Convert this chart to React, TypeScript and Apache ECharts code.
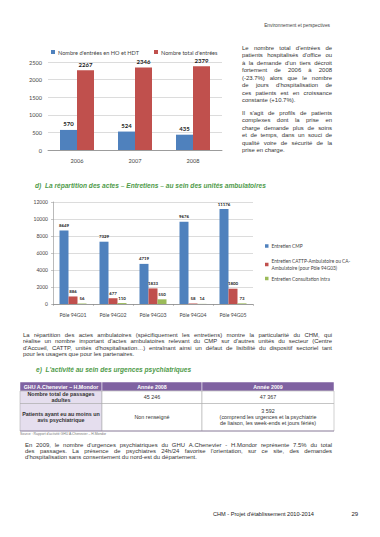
import React, { useEffect, useRef } from 'react';
import * as echarts from 'echarts';

const W = 380;
const H = 537;

// ---- Chart 1 data ----
const years = ['2006', '2007', '2008'];
const entreesHO = [570, 524, 435];
const entreesTotal = [2267, 2346, 2379];
const chart1Names = ["Nombre d'entrées en HO et HDT", "Nombre total d'entrées"];

// ---- Chart 2 data ----
const poles = ['Pôle 94G01', 'Pôle 94G02', 'Pôle 94G03', 'Pôle 94G04', 'Pôle 94G05'];
const entretienCMP = [8649, 7329, 4719, 9676, 11176];
const entretienCATTP = [886, 677, 1833, 58, 1800];
const entretienConsult = [56, 110, 550, 14, 73];
const chart2Names = [
  'Entretien CMP',
  'Entretien CATTP-Ambulatoire ou CA-\nAmbulatoire (pour Pôle 94G03)',
  'Entretien Consultation intra',
];

// ---- Text ----
const header = 'Environnement et perspectives';
const para1 = [
  "Le nombre total d'entrées de",
  "patients hospitalisés d'office ou",
  "à la demande d'un tiers décroit",
  'fortement de 2006 à 2008',
  '(-23.7%) alors que le nombre',
  "de jours d'hospitalisation de",
  'ces patients est en croissance',
  'constante (+10.7%).',
];
const para2 = [
  "Il s'agit de profils de patients",
  'complexes dont la prise en',
  'charge demande plus de soins',
  'et de temps, dans un souci de',
  'qualité voire de sécurité de la',
  'prise en charge.',
];
const headingD = 'd)  La répartition des actes – Entretiens – au sein des unités ambulatoires';
const para3 = [
  'La répartition des actes ambulatoires (spécifiquement les entretiens) montre la particularité du CHM, qui',
  "réalise un nombre important d'actes ambulatoires relevant du CMP sur d'autres unités du secteur (Centre",
  "d'Accueil, CATTP, unités d'hospitalisation…) entraînant ainsi un défaut de lisibilité du dispositif sectoriel tant",
  'pour les usagers que pour les partenaires.',
];
const headingE = "e)  L'activité au sein des urgences psychiatriques";
const tableHeader = ['GHU A.Chenevier – H.Mondor', 'Année 2008', 'Année 2009'];
const tableRow1 = [['Nombre total de passages', 'adultes'], ['45 246'], ['47 367']];
const tableRow2 = [
  ['Patients ayant eu au moins un', 'avis psychiatrique'],
  ['Non renseigné'],
  ['3 592', '(comprend les urgences et la psychiatrie', 'de liaison, les week-ends et jours fériés)'],
];
const sourceText = "Source : Rapport d'activité GHU A.Chenevier – H.Mondor";
const para4 = [
  "En 2009, le nombre d'urgences psychiatriques du GHU A.Chenevier - H.Mondor représente 7.5% du total",
  "des passages. La présence de psychiatres 24h/24 favorise l'orientation, sur ce site, des demandes",
  "d'hospitalisation sans consentement du nord-est du département.",
];
const footer = "CHM - Projet d'établissement 2010-2014";
const pageNo = '29';

const BODY = '"Liberation Sans", Arial, sans-serif';
const CHARTF = 'Lato, "Liberation Sans", sans-serif';
const BLUE = '#4f81bd';
const RED = '#c0504d';
const GREEN = '#9bbb59';
const HEAD_GREEN = '#4f9b4a';
const PURPLE = '#7f62a1';
const LAVENDER = '#e5deee';

function txt(x: number, y: number, text: string, o: any = {}) {
  const align = o.align || 'left';
  return {
    type: 'text',
    x,
    y,
    silent: true,
    style: {
      text,
      fontSize: o.size || 5.8,
      fontFamily: o.family || BODY,
      fontWeight: o.weight || 'normal',
      fontStyle: o.style || 'normal',
      fill: o.color || '#333',
      align,
      textAlign: align,
      verticalAlign: 'middle',
      textVerticalAlign: 'middle',
    },
  };
}

let measureCtx: CanvasRenderingContext2D | null = null;
function measure(text: string, size: number) {
  if (!measureCtx) measureCtx = document.createElement('canvas').getContext('2d');
  measureCtx!.font = `${size}px "Liberation Sans", Arial, sans-serif`;
  return measureCtx!.measureText(text).width;
}

// Justified paragraph: every line but the last is spread across the column width.
function paragraph(g: any[], lines: string[], x: number, y0: number, lh: number, width: number, size: number) {
  lines.forEach((line, i) => {
    const y = y0 + i * lh;
    const words = line.split(' ');
    if (i === lines.length - 1 || words.length < 2) {
      g.push(txt(x, y, line, { size }));
      return;
    }
    const widths = words.map((w) => measure(w, size));
    const sum = widths.reduce((a, b) => a + b, 0);
    const gap = (width - sum) / (words.length - 1);
    let cx = x;
    words.forEach((w, k) => {
      g.push(txt(cx, y, w, { size }));
      cx += widths[k] + gap;
    });
  });
}

function buildGraphic() {
  const g: any[] = [];
  g.push(txt(330, 25, header, { size: 4.8, align: 'right', color: '#444' }));
  paragraph(g, para1, 242, 47.5, 7.5, 90, 5.95);
  paragraph(g, para2, 242, 112.7, 7.45, 90, 5.95);
  g.push(txt(35, 185.5, headingD, { size: 6.6, weight: 'bold', style: 'italic', color: HEAD_GREEN }));
  paragraph(g, para3, 23, 335, 6.3, 309, 5.95);
  g.push(txt(36, 369.5, headingE, { size: 6.6, weight: 'bold', style: 'italic', color: HEAD_GREEN }));

  // table
  const cx = [20, 102, 202, 334];
  const ry = [382, 391, 403.5, 431];
  const stroke = '#a3a3a3';
  for (let c = 0; c < 3; c++) {
    g.push({
      type: 'rect', silent: true,
      shape: { x: cx[c], y: ry[0], width: cx[c + 1] - cx[c], height: ry[1] - ry[0] },
      style: { fill: PURPLE, stroke: '#ffffff', lineWidth: 0.5 },
    });
    g.push(txt((cx[c] + cx[c + 1]) / 2, (ry[0] + ry[1]) / 2, tableHeader[c], {
      size: 5.3, weight: 'bold', color: '#ffffff', align: 'center',
    }));
  }
  const rows = [tableRow1, tableRow2];
  rows.forEach((row, r) => {
    for (let c = 0; c < 3; c++) {
      g.push({
        type: 'rect', silent: true,
        shape: { x: cx[c], y: ry[r + 1], width: cx[c + 1] - cx[c], height: ry[r + 2] - ry[r + 1] },
        style: { fill: c === 0 ? LAVENDER : '#ffffff', stroke, lineWidth: 0.5 },
      });
      const lines = row[c];
      const mid = (ry[r + 1] + ry[r + 2]) / 2;
      const lh = 6;
      lines.forEach((l, i) => {
        const y = mid + (i - (lines.length - 1) / 2) * lh;
        g.push(txt((cx[c] + cx[c + 1]) / 2, y, l, {
          size: 5.4, weight: c === 0 ? 'bold' : 'normal', color: '#333', align: 'center',
        }));
      });
    }
  });
  g.push({
    type: 'line', silent: true,
    shape: { x1: cx[0], y1: ry[3], x2: cx[3], y2: ry[3] },
    style: { stroke: '#8a7aa0', lineWidth: 0.8 },
  });
  g.push(txt(20, 433.5, sourceText, { size: 3.4, color: '#777' }));

  paragraph(g, para4, 25, 445, 6.2, 307, 5.95);
  g.push(txt(213, 514, footer, { size: 5.6, color: '#222' }));
  g.push(txt(351.5, 514, pageNo, { size: 6, color: '#222' }));
  return g;
}

const plain = (v: number) => String(v);

function buildOption(): any {
  const labelStyle = (size: number) => ({
    show: true, position: 'top', distance: 3, fontSize: size, fontWeight: 'bold', color: '#222', fontFamily: CHARTF,
  });
  const legend2 = (top: number, name: string) => ({
    left: 260, top, itemWidth: 3.5, itemHeight: 3.5, icon: 'rect', orient: 'vertical',
    textStyle: { fontSize: 4.8, lineHeight: 7, color: '#444', fontFamily: CHARTF, padding: [0, 0, 0, -2] },
    data: [name],
  });
  return {
    animation: false,
    backgroundColor: '#ffffff',
    textStyle: { fontFamily: CHARTF },
    legend: [
      {
        left: 46, top: 44, itemWidth: 4, itemHeight: 4, itemGap: 15, icon: 'rect',
        textStyle: { fontSize: 5.6, color: '#444', fontFamily: CHARTF, padding: [0, 0, 0, -2] },
        data: chart1Names,
      },
      legend2(237.5, chart2Names[0]),
      legend2(252.5, chart2Names[1]),
      legend2(270, chart2Names[2]),
    ],
    grid: [
      { left: 48, right: W - 222, top: 62, bottom: H - 150 },
      { left: 53, right: W - 253, top: 202, bottom: H - 304 },
    ],
    xAxis: [
      {
        gridIndex: 0, type: 'category', data: years,
        axisLine: { lineStyle: { color: '#8c8c8c', width: 0.8 } },
        axisTick: { show: false },
        axisLabel: { fontSize: 5.6, color: '#444', margin: 7.5, fontFamily: CHARTF },
      },
      {
        gridIndex: 1, type: 'category', data: poles,
        axisLine: { lineStyle: { color: '#8c8c8c', width: 0.8 } },
        axisTick: { show: true, length: 2, lineStyle: { color: '#8c8c8c', width: 0.5 } },
        axisLabel: { fontSize: 5.2, color: '#444', margin: 8.5, fontFamily: CHARTF },
      },
    ],
    yAxis: [
      {
        gridIndex: 0, type: 'value', min: 0, max: 2500, interval: 500,
        axisLine: { show: false },
        axisTick: { show: false },
        splitLine: { lineStyle: { color: '#c4c4c4', width: 0.6 } },
        axisLabel: { fontSize: 5.6, color: '#444', margin: 6, fontFamily: CHARTF, formatter: plain },
      },
      {
        gridIndex: 1, type: 'value', min: 0, max: 12000, interval: 2000,
        axisLine: { show: true, lineStyle: { color: '#8c8c8c', width: 0.6 } },
        axisTick: { show: true, length: 2, lineStyle: { color: '#8c8c8c', width: 0.5 } },
        splitLine: { lineStyle: { color: '#c4c4c4', width: 0.6 } },
        axisLabel: { fontSize: 5, color: '#444', margin: 5, fontFamily: CHARTF, formatter: plain },
      },
    ],
    series: [
      {
        name: chart1Names[0], type: 'bar', xAxisIndex: 0, yAxisIndex: 0, data: entreesHO,
        barWidth: 17, barGap: '0%', itemStyle: { color: BLUE }, label: labelStyle(6),
      },
      {
        name: chart1Names[1], type: 'bar', xAxisIndex: 0, yAxisIndex: 0, data: entreesTotal,
        barWidth: 17, barGap: '0%', itemStyle: { color: RED }, label: labelStyle(6),
      },
      {
        name: chart2Names[0], type: 'bar', xAxisIndex: 1, yAxisIndex: 1, data: entretienCMP,
        barWidth: 9, barGap: '0%', itemStyle: { color: BLUE }, label: labelStyle(4.4),
      },
      {
        name: chart2Names[1], type: 'bar', xAxisIndex: 1, yAxisIndex: 1, data: entretienCATTP,
        barWidth: 9, barGap: '0%', itemStyle: { color: RED }, label: labelStyle(4.4),
      },
      {
        name: chart2Names[2], type: 'bar', xAxisIndex: 1, yAxisIndex: 1, data: entretienConsult,
        barWidth: 9, barGap: '0%', itemStyle: { color: GREEN }, label: labelStyle(4.4),
      },
    ],
    graphic: buildGraphic(),
  };
}

export default function App() {
  const ref = useRef<HTMLDivElement>(null);
  useEffect(() => {
    const chart = echarts.init(ref.current!, null, { renderer: 'svg', width: W, height: H });
    chart.setOption(buildOption());
    return () => chart.dispose();
  }, []);
  return (
    <div
      ref={ref}
      style={{ position: 'fixed', left: 0, top: 0, width: W, height: H, background: '#ffffff' }}
    />
  );
}
